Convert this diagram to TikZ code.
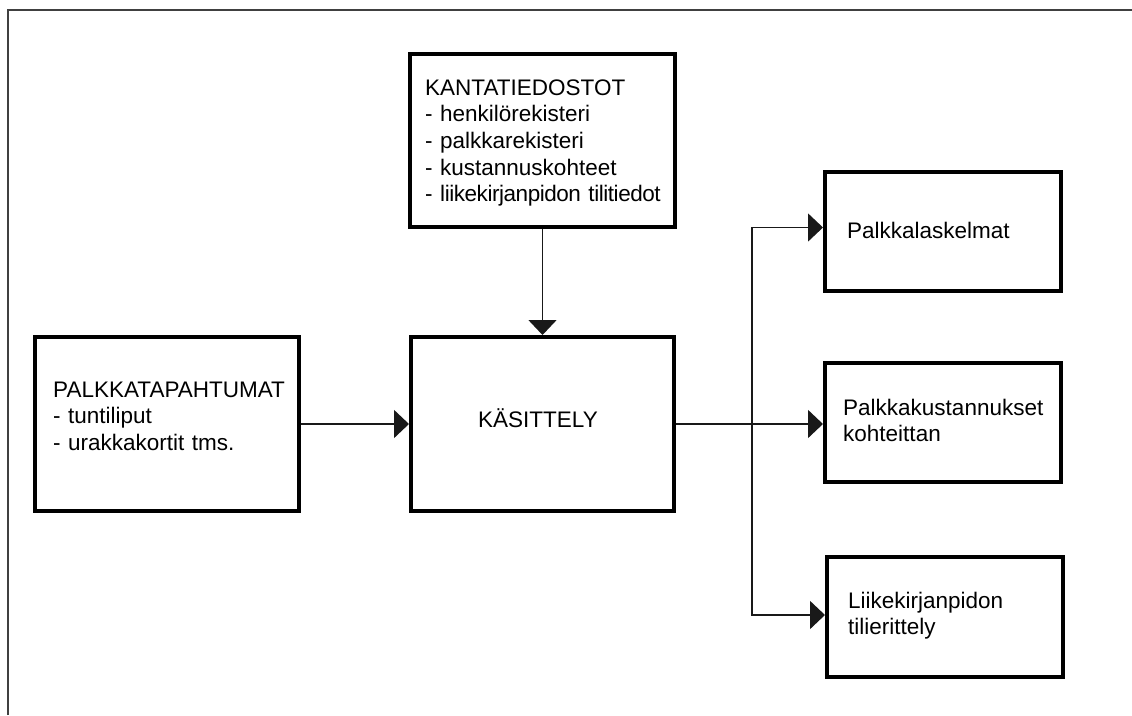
\documentclass[tikz,border=0pt]{standalone}
\usepackage{fontspec}
\setmainfont{Liberation Sans}
\usetikzlibrary{arrows.meta}
\begin{document}
\begin{tikzpicture}[x=1pt,y=-1pt,
  boxnode/.style={draw=black, line width=4pt, rectangle, inner sep=0pt},
  txt/.style={inner sep=0pt, text width=260pt, align=left, anchor=base west,
              font=\fontsize{22.5}{26.7}\selectfont},
  flow/.style={draw=black!90, line width=1.5pt,
               -{Triangle[length=15pt,width=28pt]}},
  framecol/.style={draw=black!75, line width=2pt}]
\useasboundingbox (0,0) rectangle (1132,715);
\fill[white] (0,0) rectangle (1132,715);

% page frame (top and left edges)
\draw[framecol] (8,715) -- (8,10) -- (1132,10);

% boxes
\node[boxnode, minimum width=265pt, minimum height=173pt] (kant) at (542.5,140.5) {};
\node[boxnode, minimum width=263pt, minimum height=174pt] (kas) at (542.5,424) {};
\node[boxnode, minimum width=264pt, minimum height=174pt] (palk) at (167,424) {};
\node[boxnode, minimum width=236pt, minimum height=119pt] (out1) at (943,231.5) {};
\node[boxnode, minimum width=236pt, minimum height=119pt] (out2) at (943,422.5) {};
\node[boxnode, minimum width=236pt, minimum height=120pt] (out3) at (945,617) {};

% box texts
\node[txt] (kanttext) at (425,95) {KANTATIEDOSTOT\\- henkilörekisteri\\- palkkarekisteri\\- kustannuskohteet\\{\addfontfeatures{LetterSpace=-2}- liikekirjanpidon tilitiedot}};
\node[txt] (palktext) at (53,397) {PALKKATAPAHTUMAT\\- tuntiliput\\- urakkakortit tms.};
\node[inner sep=0pt, anchor=base, font=\fontsize{22.5}{26.7}\selectfont] (kastext) at (538,427) {KÄSITTELY};
\node[txt] (out1text) at (847,238) {Palkkalaskelmat};
\node[txt] (out2text) at (843,415) {Palkkakustannukset\\kohteittan};
\node[txt] (out3text) at (848,608) {Liikekirjanpidon\\tilierittely};

% connectors
\draw[flow] (kant.south) -- (kas.north);
\draw[flow] (palk.east) -- (palk.east -| kas.west);
\coordinate (split) at (752,424);
\draw[flow] (kas.east) -- (kas.east -| out2.west);
\draw[flow] (split) |- ([yshift=4pt]out1.west);
\draw[flow] (split) |- ([yshift=2pt]out3.west);
\end{tikzpicture}
\end{document}
